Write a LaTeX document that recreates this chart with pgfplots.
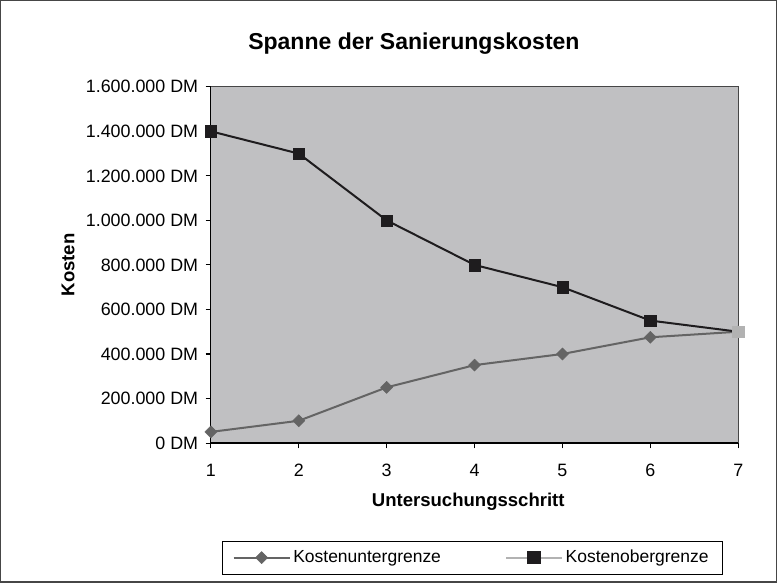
\documentclass[border=0pt]{standalone}
\usepackage{fontspec}
\setmainfont{Liberation Sans}
\usepackage{pgfplots}
\pgfplotsset{compat=1.18}
\definecolor{plotgray}{RGB}{192,192,194}
\definecolor{ugray}{RGB}{100,100,100}
\definecolor{oblack}{RGB}{30,28,30}
\definecolor{lgray}{RGB}{178,178,178}
\definecolor{frame}{RGB}{70,70,70}
\begin{document}
\begin{tikzpicture}
\begin{axis}[
  scale only axis,
  width=395.25pt, height=267pt,
  xmin=1, xmax=7, ymin=0, ymax=1600000,
  axis lines*=left,
  axis line style={black, line width=0.9pt},
  axis background/.style={fill=plotgray},
  xtick={1,2,3,4,5,6,7},
  ytick={0,200000,400000,600000,800000,1000000,1200000,1400000,1600000},
  yticklabels={0 DM,200.000 DM,400.000 DM,600.000 DM,800.000 DM,1.000.000 DM,1.200.000 DM,1.400.000 DM,1.600.000 DM},
  scaled y ticks=false,
  /pgf/number format/assume math mode=true,
  tick align=outside,
  major tick length=4pt,
  tick style={black, line width=0.8pt},
  ticklabel style={font=\fontsize{13.4}{15}\selectfont},
  xticklabel style={yshift=-8pt},
  yticklabel style={xshift=-2pt},
  title={Spanne der Sanierungskosten},
  title style={at={(axis description cs:0.385,1.098)}, anchor=center, font=\fontsize{17.25}{20}\selectfont\bfseries},
  xlabel={Untersuchungsschritt},
  xlabel style={at={(axis description cs:0.488,-0.166)}, anchor=center, font=\fontsize{13.9}{16}\selectfont\bfseries},
  ylabel={Kosten},
  ylabel style={at={(axis description cs:-0.271,0.5)}, anchor=center, rotate=0, font=\fontsize{13.9}{16}\selectfont\bfseries},
  legend columns=2,
  legend style={at={(0.495,-0.3216)}, anchor=center, draw=black, line width=0.6pt, fill=white,
    font=\fontsize{13.1}{15}\selectfont, inner xsep=8pt, inner ysep=5pt,
    /tikz/every even column/.append style={column sep=46pt}},
  legend image code/.code={\draw[mark repeat=2,mark phase=2] plot coordinates {(0pt,0pt) (21pt,0pt) (42pt,0pt)};},
  clip=false,
]
\coordinate (SW) at (rel axis cs:0,0);
\draw[frame, line width=1pt] (rel axis cs:0,1) -- (rel axis cs:1,1) -- (rel axis cs:1,0);
\addplot[ugray, line width=1.5pt, mark=square*, mark size=3.2pt, mark options={rotate=45, fill=ugray, draw=ugray, line width=0.3pt}]
  coordinates {(1,50000) (2,100000) (3,250000) (4,350000) (5,400000) (6,475000) (7,500000)};
\addlegendentry{Kostenuntergrenze}
\addplot[oblack, line width=1.5pt, mark=square*, mark size=4.3pt, mark options={fill=oblack, draw=oblack, line width=0.2pt}, forget plot]
  coordinates {(1,1400000) (2,1300000) (3,1000000) (4,800000) (5,700000) (6,550000) (7,500000)};
\addplot[only marks, mark=square*, mark size=4.3pt, mark options={fill=lgray, draw=lgray}, forget plot]
  coordinates {(7,500000)};
\addlegendimage{lgray, line width=1.5pt, mark=square*, mark size=4.3pt, mark options={fill=oblack, draw=oblack}}
\addlegendentry{Kostenobergrenze}
\end{axis}
\draw[frame, line width=1.1pt] ([shift={(-157.5pt,-104.25pt)}]SW) rectangle ([shift={(423.75pt,331.5pt)}]SW);
\end{tikzpicture}
\end{document}
